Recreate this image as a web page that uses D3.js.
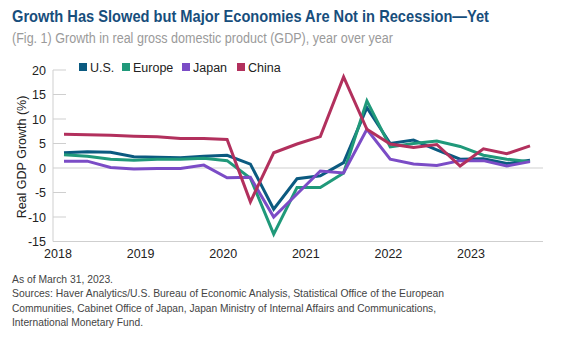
<!DOCTYPE html>
<html>
<head>
<meta charset="utf-8">
<script src="https://cdn.jsdelivr.net/npm/d3@7"></script>
<style>
  body { margin: 0; background: #fff; }
  text { font-family: "Liberation Sans", Arial, sans-serif; }
</style>
</head>
<body>
<div id="chart"></div>
<script>
var quarters = ["2018Q1","2018Q2","2018Q3","2018Q4","2019Q1","2019Q2","2019Q3","2019Q4",
  "2020Q1","2020Q2","2020Q3","2020Q4","2021Q1","2021Q2","2021Q3","2021Q4",
  "2022Q1","2022Q2","2022Q3","2022Q4","2023Q1"]
var years = [2018, 2019, 2020, 2021, 2022, 2023]
var yTicks = [20, 15, 10, 5, 0, -5, -10, -15]

var us     = [3.1, 3.3, 3.2, 2.3, 2.2, 2.1, 2.4, 2.6, 0.8, -8.4, -2.2, -1.6, 1.1, 12.3, 5.0, 5.7, 3.7, 1.8, 1.9, 0.9, 1.6]
var europe = [2.7, 2.4, 1.8, 1.6, 1.8, 1.8, 2.0, 1.5, -2.1, -13.5, -4.0, -4.0, -1.0, 13.7, 4.3, 5.0, 5.5, 4.4, 2.6, 1.8, 1.3]
var japan  = [1.4, 1.4, 0.1, -0.2, -0.1, -0.1, 0.6, -2.0, -1.9, -10.0, -5.3, -0.6, -1.0, 7.9, 1.8, 0.8, 0.5, 1.5, 1.5, 0.4, 1.3]
var china  = [6.9, 6.8, 6.7, 6.5, 6.4, 6.0, 6.0, 5.8, -6.9, 3.1, 4.9, 6.4, 18.6, 7.9, 4.9, 4.2, 4.8, 0.4, 3.9, 2.9, 4.5]

var seriesNames = ["U.S.", "Europe", "Japan", "China"]
var seriesColors = ["#0b5a80", "#20997a", "#7b4cc6", "#b2305d"]
var seriesData = [us, europe, japan, china]

var W = 588, H = 340

var svg = d3.select("#chart")
  .append("svg")
  .attr("width", W)
  .attr("height", H)

// titles
svg.append("text")
  .attr("x", 12).attr("y", 22)
  .attr("font-size", 17).attr("font-weight", "bold")
  .attr("fill", "#174e7c")
  .attr("textLength", 477).attr("lengthAdjust", "spacingAndGlyphs")
  .text("Growth Has Slowed but Major Economies Are Not in Recession\u2014Yet")

svg.append("text")
  .attr("x", 12).attr("y", 42.5)
  .attr("font-size", 14)
  .attr("fill", "#9a9a9a")
  .attr("textLength", 381).attr("lengthAdjust", "spacingAndGlyphs")
  .text("(Fig. 1) Growth in real gross domestic product (GDP), year over year")

var plotL = 53, plotR = 543, plotT = 70, plotB = 241.5

var x = d3.scalePoint()
  .domain(quarters)
  .range([64, 530])

var xYear = d3.scaleLinear()
  .domain([2018, 2023])
  .range([58, 471])

var y = d3.scaleLinear()
  .domain([-15, 20])
  .range([plotB, plotT])

// axis lines and grid
svg.append("line")
  .attr("x1", plotL).attr("x2", plotL)
  .attr("y1", y(20)).attr("y2", y(-15))
  .attr("stroke", "#cfcfcf").attr("stroke-width", 1)

svg.selectAll(".ytick")
  .data(yTicks)
  .enter()
  .append("line")
  .attr("x1", plotL)
  .attr("x2", function (d) { return (d === 0 || d === -15) ? plotR : plotL + 13 })
  .attr("y1", function (d) { return y(d) })
  .attr("y2", function (d) { return y(d) })
  .attr("stroke", "#cfcfcf").attr("stroke-width", 1)

svg.selectAll(".ylab")
  .data(yTicks)
  .enter()
  .append("text")
  .attr("x", 46)
  .attr("y", function (d) { return y(d) + 4.5 })
  .attr("text-anchor", "end")
  .attr("font-size", 12.5)
  .attr("fill", "#222")
  .text(function (d) { return d })

svg.selectAll(".xlab")
  .data(years)
  .enter()
  .append("text")
  .attr("x", function (d) { return xYear(d) })
  .attr("y", 258)
  .attr("text-anchor", "middle")
  .attr("font-size", 12.5)
  .attr("fill", "#222")
  .text(function (d) { return d })

svg.append("text")
  .attr("transform", "translate(26," + 157 + ") rotate(-90)")
  .attr("text-anchor", "middle")
  .attr("font-size", 12.5)
  .attr("fill", "#222")
  .text("Real GDP Growth (%)")

// lines
var line = d3.line()
  .x(function (d, i) { return x(quarters[i]) })
  .y(function (d) { return y(d) })

for (var s = 0; s < seriesData.length; s++) {
  svg.append("path")
    .datum(seriesData[s])
    .attr("d", line)
    .attr("fill", "none")
    .attr("stroke", seriesColors[s])
    .attr("stroke-width", 3)
    .attr("stroke-linejoin", "miter")
}

// legend
var legendX = [79, 122, 182, 237]
var legend = svg.selectAll(".leg")
  .data(seriesNames)
  .enter()
  .append("g")
  .attr("transform", function (d, i) { return "translate(" + legendX[i] + ",63)" })

legend.append("rect")
  .attr("width", 8).attr("height", 8)
  .attr("fill", function (d, i) { return seriesColors[i] })

legend.append("text")
  .attr("x", 11).attr("y", 8.5)
  .attr("font-size", 12.5)
  .attr("fill", "#222")
  .text(function (d) { return d })

// footnotes
var notes = [
  "As of March 31, 2023.",
  "Sources: Haver Analytics/U.S. Bureau of Economic Analysis, Statistical Office of the European",
  "Communities, Cabinet Office of Japan, Japan Ministry of Internal Affairs and Communications,",
  "International Monetary Fund."
]
var noteWidths = [101, 432, 424, 131]
svg.selectAll(".note")
  .data(notes)
  .enter()
  .append("text")
  .attr("x", 12)
  .attr("y", function (d, i) { return 282.5 + i * 14.5 })
  .attr("font-size", 11.5)
  .attr("fill", "#444")
  .attr("textLength", function (d, i) { return noteWidths[i] })
  .attr("lengthAdjust", "spacingAndGlyphs")
  .text(function (d) { return d })
</script>
</body>
</html>
